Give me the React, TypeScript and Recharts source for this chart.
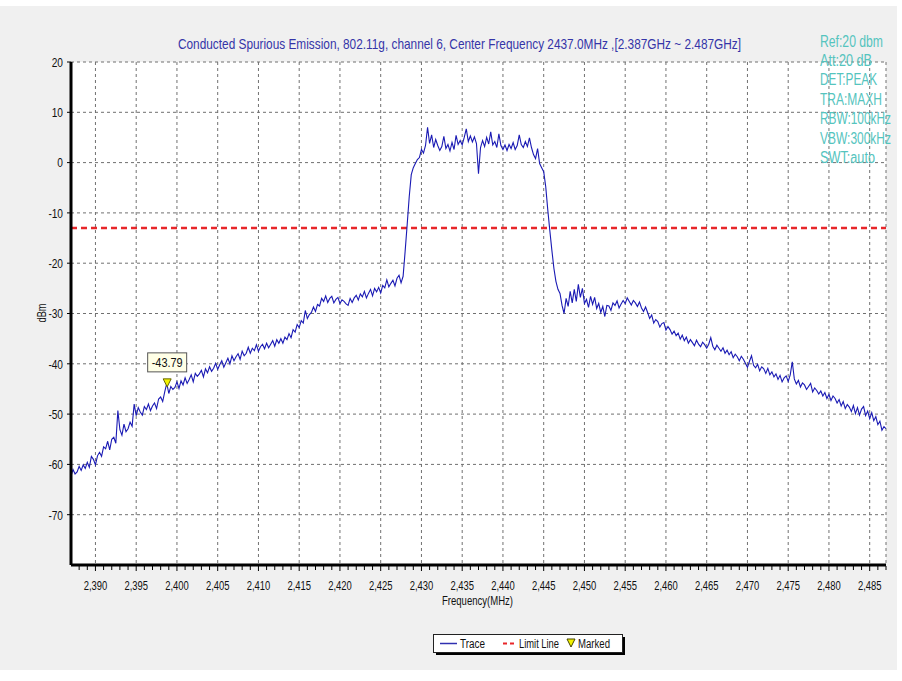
import React from 'react';
import { ComposedChart, Line, XAxis, YAxis, CartesianGrid, ReferenceLine, Scatter } from 'recharts';

const titleText = 'Conducted Spurious Emission, 802.11g, channel 6, Center Frequency 2437.0MHz ,[2.387GHz ~ 2.487GHz]';
const infoLines = ['Ref:20 dbm', 'Att:20 dB', 'DET:PEAK', 'TRA:MAXH', 'RBW:100kHz', 'VBW:300kHz', 'SWT:auto'];
const infoWidths = [63, 52, 57, 62, 71, 71, 55];
const xAxisTitle = 'Frequency(MHz)';
const yAxisTitle = 'dBm';
const legendNames = ['Trace', 'Limit Line', 'Marked'];

const freqStart = 2387;
const freqEnd = 2487;
const freqStep = 0.25;
const traceLevels = [
  -62.3, -61.0, -61.9, -61.5, -60.4, -61.2, -60.1, -60.8,
  -59.6, -60.6, -58.4, -59.0, -60.1, -58.3, -57.6, -58.4,
  -56.5, -56.9, -55.4, -57.1, -55.0, -54.6, -55.8, -49.3,
  -53.1, -54.2, -52.0, -53.5, -52.9, -51.6, -52.4, -48.0,
  -50.3, -48.7, -49.6, -50.2, -48.5, -49.1, -48.0, -49.3,
  -48.4, -47.8, -48.9, -47.0, -46.6, -47.5, -45.6, -43.9,
  -45.9, -44.5, -45.1, -44.7, -43.6, -44.9, -43.4, -44.2,
  -42.8, -43.9, -43.1, -42.2, -43.6, -41.9, -42.5, -42.0,
  -41.3, -42.6, -41.0, -41.8, -40.6, -41.5, -40.9, -39.9,
  -41.1, -40.2, -39.4, -40.7, -39.8, -38.9, -40.0, -38.4,
  -39.4, -38.6, -38.0, -39.1, -37.5, -38.4, -37.9, -36.7,
  -37.9, -36.9, -37.4, -36.2, -37.5, -36.6, -36.1, -37.0,
  -35.9, -36.8, -36.1, -35.4, -36.5, -35.2, -35.9, -35.0,
  -35.9, -34.7, -35.2, -34.0, -34.8, -33.2, -33.7, -32.2,
  -32.8, -31.4, -31.9, -29.4, -31.0, -30.2, -29.8, -28.7,
  -29.6, -28.2, -28.5, -27.0, -27.6, -26.5, -27.8, -27.0,
  -26.6, -27.9, -27.2, -26.8, -28.0, -27.3, -27.6, -28.1,
  -28.4, -27.0, -27.8, -26.9, -26.4, -27.3, -26.1, -26.7,
  -25.6, -26.9, -26.0, -25.2, -26.5, -25.0, -25.7, -24.8,
  -25.9, -24.4, -24.9, -23.3, -24.7, -24.0, -23.4, -24.5,
  -23.0, -22.4, -23.9, -22.6, -17.6, -12.3, -6.8, -2.4,
  -1.0, -0.2, 0.6, 1.0, 2.6, 1.9, 3.4, 7.0,
  3.8, 5.5, 3.0, 4.6, 3.4, 2.4, 3.2, 5.2,
  2.8, 3.6, 2.3, 4.0, 2.6, 5.4, 3.6, 4.4,
  3.5, 5.0, 6.7, 4.2, 5.3, 4.1, 5.1, 3.8,
  -2.2, 3.0, 4.4, 3.2, 5.0, 3.7, 6.1, 3.5,
  4.2, 3.0, 5.7, 3.4, 2.6, 3.5, 2.4, 3.6,
  2.8, 4.0, 2.6, 3.4, 5.5, 3.6, 3.0, 4.2,
  3.2, 4.9, 3.0, 1.6, 0.8, 2.8, -0.2, -1.0,
  -1.8, -4.8, -9.4, -13.5, -17.4, -21.0, -23.6, -25.2,
  -26.0, -28.4, -30.0, -27.0, -28.6, -25.6, -27.9, -25.2,
  -27.6, -24.2, -26.8, -25.0, -28.0, -27.2, -28.8, -26.6,
  -28.2, -26.8, -29.0, -28.0, -29.8, -28.6, -30.6, -28.4,
  -28.5, -29.4, -27.9, -28.4, -27.5, -28.9, -28.1, -27.4,
  -28.0, -26.9, -27.6, -28.3, -27.4, -27.9, -28.6, -27.7,
  -28.9, -29.6, -28.7, -29.8, -31.0, -30.3, -31.9, -31.2,
  -31.6, -32.7, -32.0, -31.8, -33.3, -32.6, -33.2, -34.1,
  -33.5, -34.4, -33.9, -35.1, -34.3, -35.4, -34.7, -35.9,
  -35.2, -35.8, -36.4, -35.3, -36.1, -36.6, -35.7, -36.2,
  -36.9, -36.1, -34.8, -36.5, -37.2, -36.3, -36.9, -37.5,
  -36.8, -37.9, -37.3, -38.2, -37.6, -38.8, -38.1, -38.6,
  -39.4, -38.5, -39.1, -39.9, -40.7, -39.5, -38.4, -40.3,
  -40.8, -40.1, -41.4, -40.6, -41.0, -41.9, -40.9, -42.2,
  -41.6, -42.6, -42.0, -43.1, -42.3, -43.6, -42.8, -42.4,
  -43.5, -42.2, -39.6, -43.0, -44.0, -43.3, -44.6, -43.8,
  -44.2, -45.1, -44.5, -43.9, -45.6, -44.8, -45.3, -46.0,
  -45.4, -46.4, -45.7, -46.9, -46.1, -47.3, -46.4, -46.9,
  -47.8, -47.1, -48.4, -47.5, -48.9, -48.1, -48.6, -49.5,
  -48.3, -49.9, -48.7, -50.2, -49.0, -48.5, -50.3, -49.4,
  -50.9, -49.7, -51.3, -50.5, -52.1, -51.4, -53.2, -52.5,
  -52.9,
];

const majorTicks = [2390, 2395, 2400, 2405, 2410, 2415, 2420, 2425, 2430, 2435, 2440, 2445, 2450, 2455, 2460, 2465, 2470, 2475, 2480, 2485];
const yTicks = [-70, -60, -50, -40, -30, -20, -10, 0, 10, 20];
const yGridTicks = [-70, -60, -50, -40, -30, -20, -10, 0, 10];
const yDomain = [-80, 20];
const limitLevel = -13;
const markerData = [{ f: 2398.8, v: -43.79 }];

const minorTicks: number[] = [];
for (let f = freqStart + 1; f <= freqEnd; f += 1) minorTicks.push(f);

const traceData = traceLevels.map((level, i) => ({ f: freqStart + i * freqStep, level }));

const FONT = "'Liberation Sans', Arial, sans-serif";

const XTick = (props: any) => {
  const { x, y, payload } = props;
  const v = payload.value;
  const major = majorTicks.includes(v);
  return (
    <g>
      <line x1={x} x2={x} y1={y - 14} y2={y - 14 + (major ? 5 : 4)} stroke="#000" strokeWidth={1} />
      {major && (
        <text x={0} y={0} dy="0.71em" transform={`translate(${x},${y}) scale(0.7,1)`} textAnchor="middle" fontSize={13.5} fill="#111" fontFamily={FONT}>
          {v.toLocaleString('en-US')}
        </text>
      )}
    </g>
  );
};

const YTick = (props: any) => {
  const { x, y, payload } = props;
  return (
    <text x={0} y={0} dy="0.36em" transform={`translate(${x},${y}) scale(0.75,1)`} textAnchor="end" fontSize={13.5} fill="#111" fontFamily={FONT}>
      {payload.value}
    </text>
  );
};

const MarkerShape = (props: any) => {
  const { cx, cy, payload } = props;
  if (cx == null || cy == null) return null;
  return (
    <g>
      <rect x={cx - 19.5} y={cy - 30} width={39} height={19} fill="#ffffe6" stroke="#555" strokeWidth={1} />
      <text x={cx - 15.5} y={cy - 16} textLength={31} lengthAdjust="spacingAndGlyphs" fontSize={12.5} fill="#111" fontFamily={FONT}>
        {payload.v.toFixed(2)}
      </text>
      <polygon points={`${cx - 4},${cy - 4} ${cx + 4},${cy - 4} ${cx},${cy + 4}`} fill="#f2f200" stroke="#666600" strokeWidth={1} />
    </g>
  );
};

export default function App() {
  return (
    <div style={{ position: 'absolute', left: 0, top: 0, width: 902, height: 681, background: '#fff', overflow: 'hidden' }}>
      <div style={{ position: 'absolute', left: 0, top: 6, width: 897, height: 664, background: '#f0f0f0' }} />
      <ComposedChart
        width={902}
        height={681}
        data={traceData}
        margin={{ top: 62, right: 16, bottom: 86, left: 0 }}
        style={{ position: 'absolute', left: 0, top: 0 }}
      >
        <XAxis xAxisId="grid" dataKey="f" type="number" domain={[freqStart, freqEnd]} ticks={majorTicks} hide allowDataOverflow />
        <YAxis yAxisId="grid" type="number" domain={yDomain} ticks={yGridTicks} hide allowDataOverflow />
        <CartesianGrid xAxisId="grid" yAxisId="grid" fill="#ffffff" stroke="#707070" strokeDasharray="3 3" />
        <XAxis
          dataKey="f"
          type="number"
          domain={[freqStart, freqEnd]}
          ticks={minorTicks}
          interval={0}
          height={30}
          tickSize={4}
          tickMargin={11}
          tickLine={false}
          tick={<XTick />}
          axisLine={{ stroke: '#000', strokeWidth: 3 }}
          allowDataOverflow
        />
        <YAxis
          type="number"
          domain={yDomain}
          ticks={yTicks}
          interval={0}
          width={71}
          tickSize={4}
          tickMargin={4}
          tickLine={{ stroke: '#000' }}
          tick={<YTick />}
          axisLine={{ stroke: '#000', strokeWidth: 3 }}
          allowDataOverflow
        />
        <ReferenceLine y={limitLevel} stroke="#e8262a" strokeWidth={2.5} strokeDasharray="6 4" />
        <Line type="linear" dataKey="level" stroke="#1a1ab4" strokeWidth={1.1} dot={false} isAnimationActive={false} />
        <Scatter data={markerData} dataKey="v" shape={<MarkerShape />} isAnimationActive={false} />
      </ComposedChart>

      <svg width={902} height={681} style={{ position: 'absolute', left: 0, top: 0, pointerEvents: 'none' }} fontFamily={FONT}>
        <text x={178} y={48.5} textLength={563} lengthAdjust="spacingAndGlyphs" fontSize={15} fill="#3535a8">
          {titleText}
        </text>
        {infoLines.map((t, i) => (
          <text key={t} x={820} y={46.5 + i * 19.45} textLength={infoWidths[i]} lengthAdjust="spacingAndGlyphs" fontSize={16} fill="#55c4be">
            {t}
          </text>
        ))}
        <text x={0} y={0} transform="translate(46,313) rotate(-90)" textAnchor="middle" textLength={19} lengthAdjust="spacingAndGlyphs" fontSize={12.5} fill="#111">
          {yAxisTitle}
        </text>
        <text x={442} y={605} textLength={71} lengthAdjust="spacingAndGlyphs" fontSize={12.5} fill="#111">
          {xAxisTitle}
        </text>

        <rect x={436} y={637} width={189} height={18} fill="#000" />
        <rect x={433.5} y={634.5} width={189} height={18} fill="#fff" stroke="#222" strokeWidth={1} />
        <line x1={440} x2={457} y1={643.5} y2={643.5} stroke="#3030b0" strokeWidth={1.5} />
        <text x={460} y={647.5} textLength={25} lengthAdjust="spacingAndGlyphs" fontSize={12.5} fill="#111">{legendNames[0]}</text>
        <line x1={503} x2={517} y1={643.5} y2={643.5} stroke="#e8262a" strokeWidth={2} strokeDasharray="4 3" />
        <text x={519} y={647.5} textLength={40} lengthAdjust="spacingAndGlyphs" fontSize={12.5} fill="#111">{legendNames[1]}</text>
        <polygon points="567,639 575,639 571,647" fill="#f2f200" stroke="#444400" strokeWidth={1} />
        <text x={578} y={647.5} textLength={32} lengthAdjust="spacingAndGlyphs" fontSize={12.5} fill="#111">{legendNames[2]}</text>
      </svg>
    </div>
  );
}
